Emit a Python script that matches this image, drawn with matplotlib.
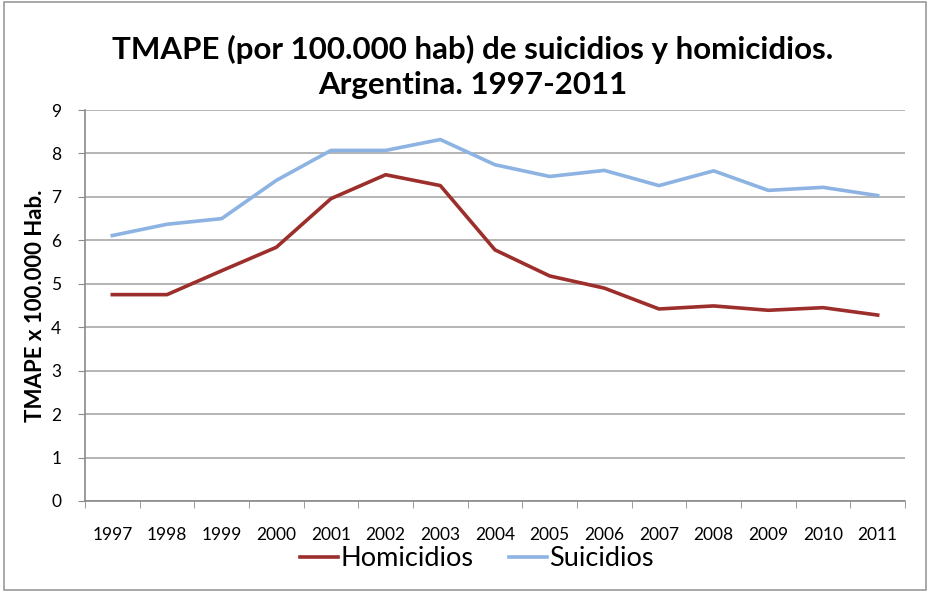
import matplotlib
matplotlib.use("Agg")
import matplotlib.pyplot as plt
from matplotlib.patches import Rectangle

years = ["1997", "1998", "1999", "2000", "2001", "2002", "2003", "2004",
         "2005", "2006", "2007", "2008", "2009", "2010", "2011"]
homicidios = [4.75, 4.75, 5.30, 5.84, 6.96, 7.51, 7.26, 5.78,
              5.18, 4.90, 4.42, 4.49, 4.39, 4.45, 4.28]
suicidios = [6.11, 6.37, 6.50, 7.38, 8.07, 8.07, 8.32, 7.74,
             7.47, 7.61, 7.26, 7.60, 7.15, 7.22, 7.03]
y_ticks = list(range(0, 10))

plt.rcParams['font.family'] = ['Lato', 'DejaVu Sans']

fig = plt.figure(figsize=(9.3, 5.94), dpi=100)
fig.patches.append(Rectangle((0.004, 0.006), 0.992, 0.99, transform=fig.transFigure,
                             fill=False, edgecolor='#9a9a9a', linewidth=1.2))

ax = fig.add_axes([0.0914, 0.1566, 0.8817, 0.6582])
x = list(range(len(years)))
ax.plot(x, homicidios, color='#9C2E2B', linewidth=2.6, label='Homicidios',
        solid_joinstyle='round')
ax.plot(x, suicidios, color='#8DB3E2', linewidth=2.6, label='Suicidios',
        solid_joinstyle='round')

ax.set_xlim(-0.5, len(years) - 0.5)
ax.set_ylim(0, 9)
ax.set_yticks(y_ticks)
ax.set_yticklabels([str(v) for v in y_ticks], fontsize=12.5)
ax.set_xticks(x)
ax.set_xticklabels(years, fontsize=12.5)
ax.set_xticks([i - 0.5 for i in range(len(years) + 1)], minor=True)
ax.tick_params(axis='x', which='major', length=0, pad=19)
ax.tick_params(axis='x', which='minor', length=5, color='#8a8a8a', direction='out')
ax.tick_params(axis='y', length=5, color='#8a8a8a', direction='out', pad=12)

ax.grid(axis='y', color='#a8a8a8', linewidth=1.2)
ax.set_axisbelow(True)
for s in ['top', 'right']:
    ax.spines[s].set_visible(False)
ax.spines['left'].set_color('#8a8a8a')
ax.spines['bottom'].set_color('#8a8a8a')
ax.spines['left'].set_linewidth(1.2)
ax.spines['bottom'].set_linewidth(1.2)

ax.set_ylabel('TMAPE x 100.000 Hab.', fontsize=16, fontweight='bold', labelpad=4)

fig.text(0.508, 0.888, 'TMAPE (por 100.000 hab) de suicidios y homicidios.\nArgentina. 1997-2011',
         ha='center', va='center', fontsize=22.5, fontweight='bold', linespacing=1.3)

leg = ax.legend(loc='center', bbox_to_anchor=(0.478, -0.148), ncol=2, frameon=False,
                fontsize=19.5, handlelength=1.4, handletextpad=0.1, columnspacing=1.3)

fig.savefig('out.png', dpi=100)
